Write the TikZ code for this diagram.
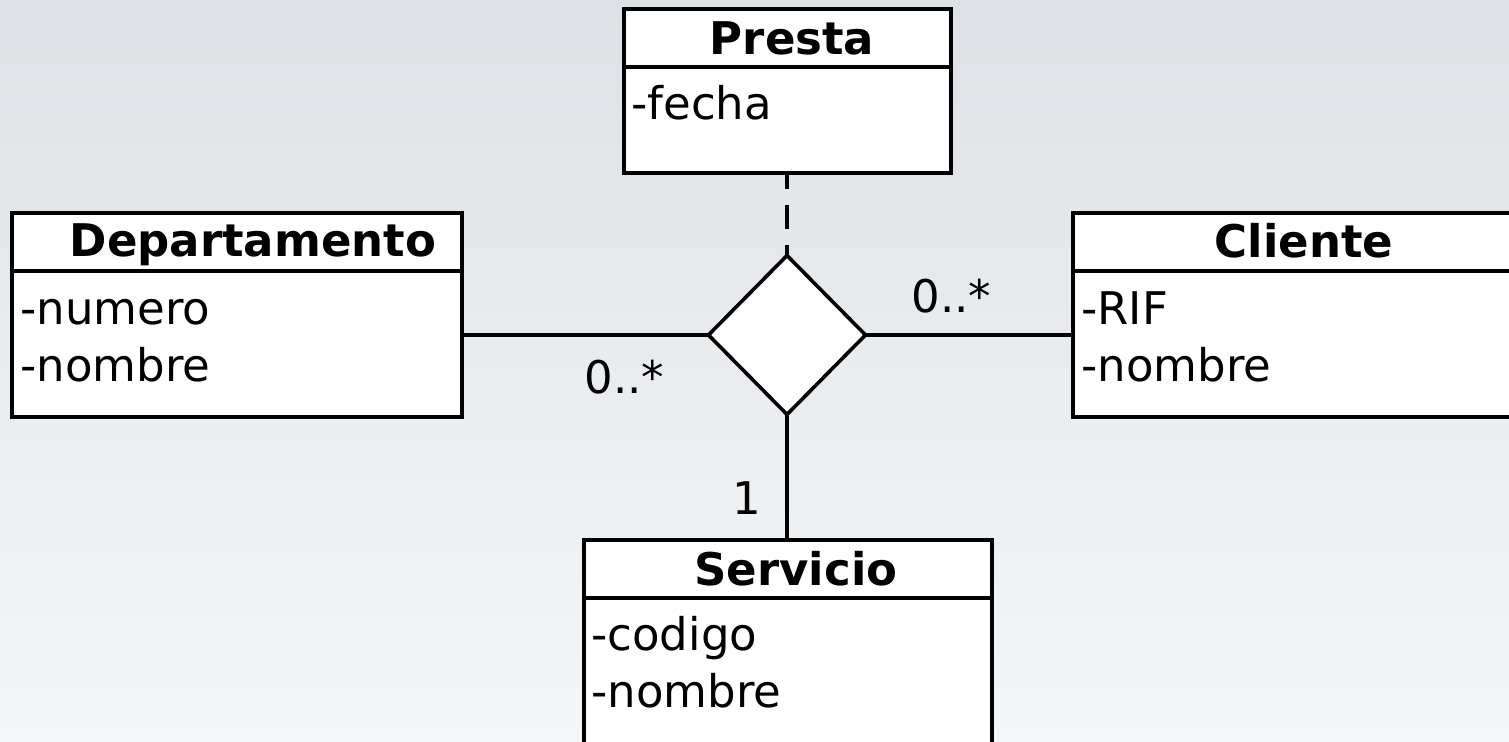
\documentclass[tikz,border=0pt]{standalone}
\usepackage{fontspec}
\setmainfont{DejaVu Sans}
\usetikzlibrary{shapes.geometric}
\definecolor{bgtop}{RGB}{222,225,229}
\definecolor{bgbot}{RGB}{245,246,247}
\begin{document}
\begin{tikzpicture}[x=0.5pt,y=-0.5pt,
  classbox/.style={draw=black, fill=white, line width=2pt, outer sep=0pt, inner sep=0pt, anchor=north west},
  sepline/.style={line width=2pt},
  title/.style={font=\fontsize{22.5}{27}\selectfont\bfseries, inner sep=0pt, anchor=base},
  attr/.style={font=\fontsize{22.5}{27}\selectfont, inner sep=0pt, anchor=base west},
  mult/.style={font=\fontsize{22.5}{27}\selectfont, inner sep=0pt, anchor=base west},
  assoc/.style={line width=1.6pt},
  rel/.style={diamond, draw=black, fill=white, line width=1.8pt, inner sep=0pt, outer sep=0pt, minimum width=78.5pt, minimum height=79.5pt}]
\useasboundingbox (0,0) rectangle (1509,742);
\clip (0,0) rectangle (1509,742);
\shade[top color=bgtop, bottom color=bgbot] (0,0) rectangle (1509,742);

% class boxes
\node[classbox, minimum width=163.5pt, minimum height=82pt] (presta) at (624,9) {};
\node[classbox, minimum width=225pt, minimum height=102pt] (dep) at (12,213) {};
\node[classbox, minimum width=235pt, minimum height=102pt] (cli) at (1073,213) {};
\node[classbox, minimum width=204pt, minimum height=120pt] (serv) at (584,540) {};

% header separators
\draw[sepline] ([yshift=-29pt]presta.north west) -- ([yshift=-29pt]presta.north east);
\draw[sepline] ([yshift=-29pt]dep.north west) -- ([yshift=-29pt]dep.north east);
\draw[sepline] ([yshift=-29pt]cli.north west) -- ([yshift=-29pt]cli.north east);
\draw[sepline] ([yshift=-29pt]serv.north west) -- ([yshift=-29pt]serv.north east);

% titles
\node[title] (prestaT) at (792,55) {Presta};
\node[title] (depT) at (253,257) {Departamento};
\node[title] (cliT) at (1304,258) {Cliente};
\node[title] (servT) at (796,585) {Servicio};

% attributes
\node[attr] (prestaA1) at (631,120) {-fecha};
\node[attr] (depA1) at (20,325) {-numero};
\node[attr] (depA2) at (20,382) {-nombre};
\node[attr] (cliA1) at (1081,325) {-RIF};
\node[attr] (cliA2) at (1081,382) {-nombre};
\node[attr] (servA1) at (591,650) {-codigo};
\node[attr] (servA2) at (591,707) {-nombre};

% association diamond
\node[rel] (dia) at (787,335) {};

% connectors
\draw[assoc] (dia.west -| dep.east) -- (dia.west);
\draw[assoc] (dia.east) -- (dia.east -| cli.west);
\draw[assoc] (dia.south) -- (dia.south |- serv.north);
\draw[assoc, dash pattern=on 12pt off 8pt, dash phase=4pt] (presta.south -| dia.north) -- (dia.north);

% multiplicities
\node[mult] (m1) at (584,394) {0..*};
\node[mult] (m2) at (911,313) {0..*};
\node[mult] (m3) at (732,515) {1};
\end{tikzpicture}
\end{document}
